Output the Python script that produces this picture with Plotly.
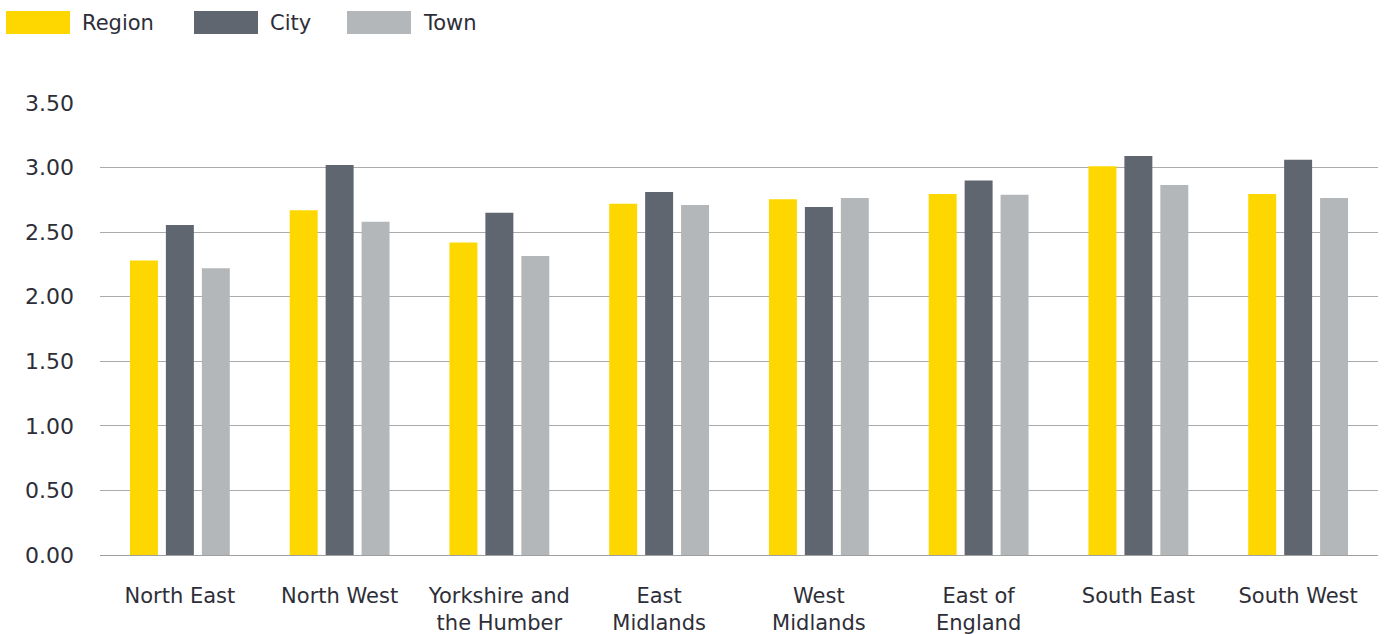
import plotly.graph_objects as go

categories = ["North East", "North West", "Yorkshire and<br>the Humber", "East<br>Midlands",
              "West<br>Midlands", "East of<br>England", "South East", "South West"]
region = [2.28, 2.67, 2.42, 2.72, 2.755, 2.795, 3.01, 2.795]
city = [2.555, 3.02, 2.65, 2.81, 2.695, 2.90, 3.09, 3.06]
town = [2.22, 2.58, 2.315, 2.71, 2.765, 2.79, 2.865, 2.765]
series_names = ["Region", "City", "Town"]
colors = ["#FFD700", "#5F6670", "#B4B7BA"]
tick_vals = [0, 0.5, 1.0, 1.5, 2.0, 2.5, 3.0, 3.5]
tick_text = ["0.00", "0.50", "1.00", "1.50", "2.00", "2.50", "3.00", "3.50"]

W, H = 1384, 634
FONT = "DejaVu Sans"
TXT = "#2E2E38"
ML, MR, MT, MB = 100, 6, 103, 79
PW = W - ML - MR
PH = H - MT - MB


def px(page_x):
    return (page_x - ML) / PW


def py(page_y):
    return (H - MB - page_y) / PH


fig = go.Figure()
for name, vals, col in zip(series_names, [region, city, town], colors):
    fig.add_trace(go.Bar(x=list(range(len(categories))), y=vals, name=name,
                         marker=dict(color=col, line=dict(width=0)), showlegend=False))

# custom legend with wide swatches
swatch_x = [6, 194, 347]
for i, (name, col) in enumerate(zip(series_names, colors)):
    x0 = swatch_x[i]
    fig.add_shape(type="rect", xref="paper", yref="paper",
                  x0=px(x0), x1=px(x0 + 64), y0=py(34), y1=py(11),
                  line=dict(width=0), fillcolor=col)
    fig.add_annotation(xref="paper", yref="paper", x=px(x0 + 74),
                       y=py(23), text=name, showarrow=False,
                       xanchor="left", yanchor="middle",
                       font=dict(family=FONT, size=21, color=TXT))

fig.update_layout(
    width=W, height=H,
    margin=dict(l=ML, r=MR, t=MT, b=MB),
    paper_bgcolor="white", plot_bgcolor="white",
    barmode="group", bargap=0.325, bargroupgap=0.222,
    font=dict(family=FONT, size=21, color=TXT),
    xaxis=dict(tickmode="array", tickvals=list(range(len(categories))), ticktext=categories,
               range=[-0.5, 7.5], showgrid=False, zeroline=False, showline=False,
               ticks="", tickfont=dict(size=21, color=TXT), ticklabelstandoff=26,
               automargin=False),
    yaxis=dict(range=[0, 3.5], tickmode="array", tickvals=tick_vals, ticktext=tick_text,
               showgrid=True, gridcolor="#ABABAB", gridwidth=1, zeroline=True,
               zerolinecolor="#A0A0A0", zerolinewidth=1, showline=False, ticks="",
               tickfont=dict(size=22, color=TXT), ticklabelstandoff=25,
               automargin=False),
)

fig.write_html("out.html", config={"displayModeBar": False},
               post_script="document.body.style.margin='0px';")
